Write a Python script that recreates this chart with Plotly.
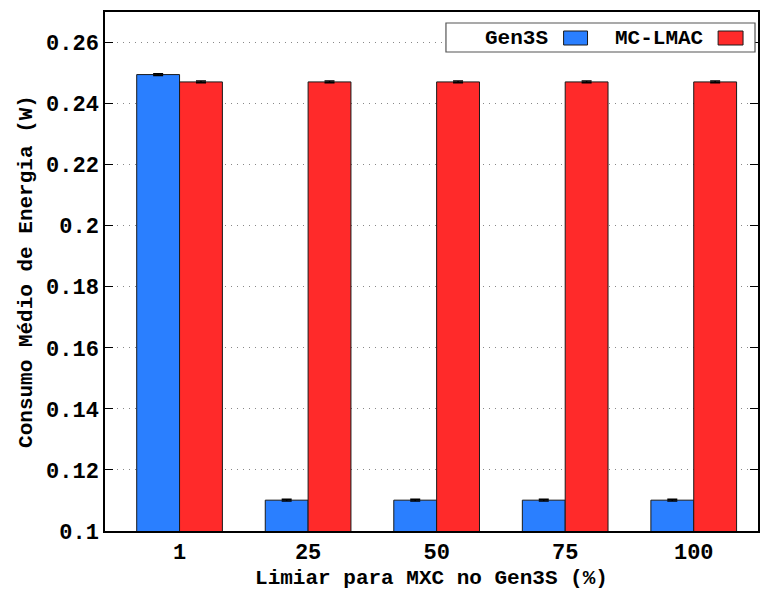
import plotly.graph_objects as go

# Data
categories = ["1", "25", "50", "75", "100"]
gen3s = [0.2495, 0.1101, 0.1101, 0.1101, 0.1101]
gen3s_err = [0.0003, 0.0003, 0.0003, 0.0003, 0.0003]
mclmac = [0.2471, 0.2471, 0.2471, 0.2471, 0.2471]
mclmac_err = [0.0003, 0.0003, 0.0003, 0.0003, 0.0003]
series_names = ["Gen3S", "MC-LMAC"]
y_ticks = [0.10, 0.12, 0.14, 0.16, 0.18, 0.20, 0.22, 0.24, 0.26]
y_tick_labels = ["0.1", "0.12", "0.14", "0.16", "0.18", "0.2", "0.22", "0.24", "0.26"]

BLUE = "#2a7fff"
RED = "#ff2a2a"
FONT = "Courier New, Nimbus Mono PS, FreeMono, Liberation Mono, monospace"

W, H = 760, 590
L, R, T, B = 105, 0, 12, 59
x_pos = list(range(len(categories)))

fig = go.Figure()
for name, vals, errs, col in [
    (series_names[0], gen3s, gen3s_err, BLUE),
    (series_names[1], mclmac, mclmac_err, RED),
]:
    fig.add_trace(go.Bar(
        x=x_pos, y=vals, name=name,
        marker=dict(color=col, line=dict(color="#1a1a1a", width=1)),
        error_y=dict(type="data", array=errs, visible=True,
                     color="#000000", thickness=1.5, width=5),
        showlegend=False,
    ))


def px_x(p):
    return (p - L) / (W - L - R)


def px_y(p):
    return (H - B - p) / (H - T - B)


# Key box drawn in the upper right corner, sample after each label
shapes = [dict(type="rect", xref="paper", yref="paper",
               x0=px_x(447), x1=px_x(757), y0=px_y(52), y1=px_y(23),
               line=dict(color="#555555", width=1.2), fillcolor="white", layer="above")]
annotations = []
key_items = [(series_names[0], BLUE, 551, 565, 589),
             (series_names[1], RED, 708, 720, 745)]
for name, col, tx, s0, s1 in key_items:
    annotations.append(dict(xref="paper", yref="paper", x=px_x(tx), y=px_y(38),
                            text=name, showarrow=False, xanchor="right", yanchor="middle",
                            font=dict(family=FONT, size=21, color="black", weight="bold")))
    shapes.append(dict(type="rect", xref="paper", yref="paper",
                       x0=px_x(s0), x1=px_x(s1), y0=px_y(45), y1=px_y(31),
                       line=dict(color="#1a1a1a", width=1), fillcolor=col, layer="above"))

fig.update_layout(
    width=W, height=H,
    margin=dict(l=L, r=R, t=T, b=B),
    paper_bgcolor="white", plot_bgcolor="white",
    barmode="group", bargap=1/3, bargroupgap=0,
    font=dict(family=FONT, size=21, color="black", weight="bold"),
    shapes=shapes, annotations=annotations,
    xaxis=dict(
        range=[-0.58, 4.5], tickvals=x_pos, ticktext=categories,
        showline=True, linecolor="black", linewidth=1.5, mirror=True,
        showgrid=False, ticks="", zeroline=False,
        title=dict(text="Limiar para MXC no Gen3S (%)", standoff=6,
                   font=dict(family=FONT, size=21, weight="bold")),
        tickfont=dict(family=FONT, size=22, weight="bold"),
    ),
    yaxis=dict(
        range=[0.1, 0.27], tickvals=y_ticks, ticktext=y_tick_labels,
        showline=True, linecolor="black", linewidth=1.5, mirror="ticks",
        ticks="inside", ticklen=8, tickwidth=1, tickcolor="black",
        showgrid=True, gridcolor="#888888", gridwidth=1, griddash="1px,5px",
        zeroline=False,
        title=dict(text="Consumo Médio de Energia (W)", standoff=8,
                   font=dict(family=FONT, size=21, weight="bold")),
        tickfont=dict(family=FONT, size=22, weight="bold"),
    ),
)

fig.write_html("out.html")
